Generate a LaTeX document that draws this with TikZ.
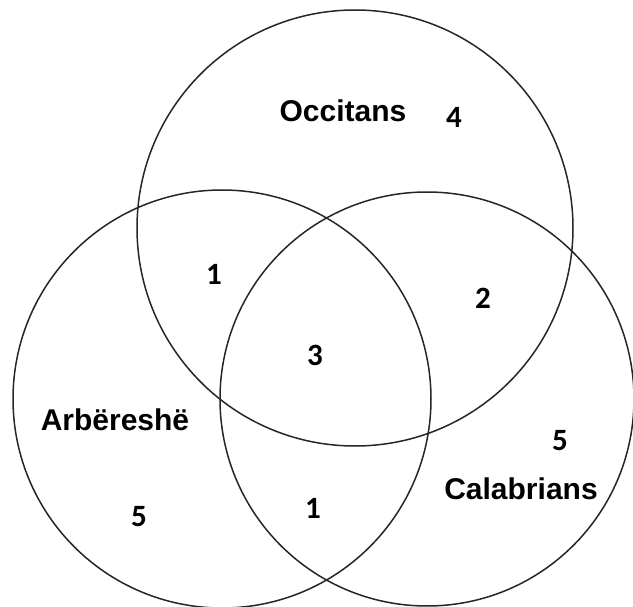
\documentclass[tikz,border=0pt]{standalone}
\usepackage{fontspec}
\newfontfamily\lblfont{Liberation Sans}
\newfontfamily\numfont{Carlito}
\begin{document}
\begin{tikzpicture}[x=1pt,y=-1pt,
  setcircle/.style={draw=black!85,line width=1.5pt},
  setlabel/.style={font=\lblfont\bfseries\fontsize{30}{33}\selectfont,inner sep=0pt},
  count/.style={font=\numfont\bfseries\fontsize{31}{34}\selectfont,inner sep=0pt}]
\useasboundingbox (0,0) rectangle (633,607);
\draw[setcircle] (355,228) circle[radius=218];
\draw[setcircle] (222,399) circle[radius=209];
\draw[setcircle] (427,399) circle[radius=207];
\node[setlabel] (occ) at (343,111) {Occitans};
\node[setlabel] (arb) at (115,420) {Arbëreshë};
\node[setlabel] (cal) at (521,489) {Calabrians};
\node[count] (nO) at (454,117) {4};
\node[count] (nOA) at (214,274) {1};
\node[count] (nOC) at (483,298) {2};
\node[count] (nAll) at (315,355) {3};
\node[count] (nAC) at (313,508) {1};
\node[count] (nA) at (139,517) {5};
\node[count] (nC) at (560,441) {5};
\end{tikzpicture}
\end{document}
